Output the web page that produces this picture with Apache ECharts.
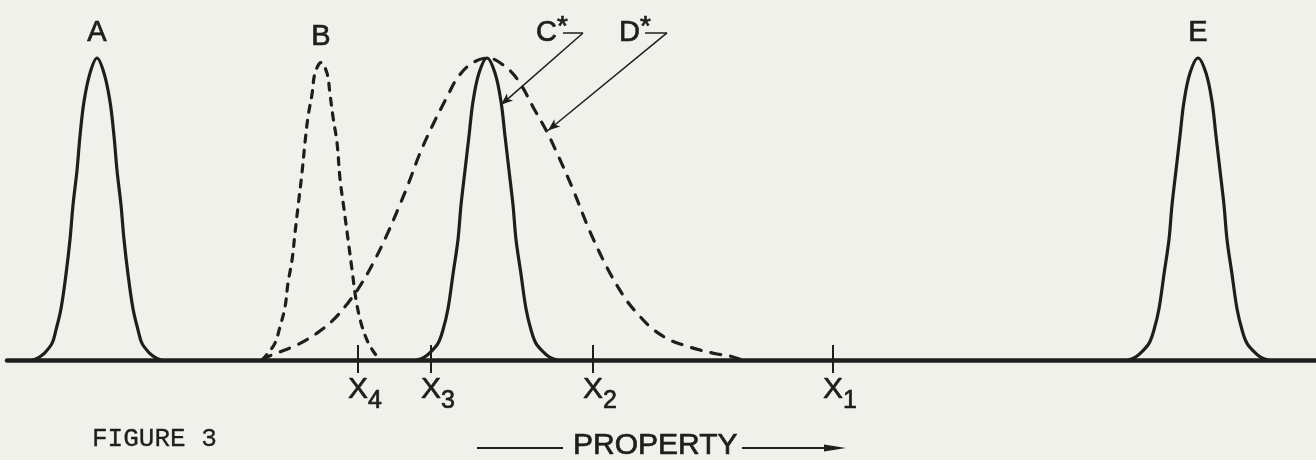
<!DOCTYPE html>
<html>
<head>
<meta charset="utf-8">
<title>Figure 3 – property distributions</title>
<script src="https://cdn.jsdelivr.net/npm/echarts@6/dist/echarts.min.js"></script>
<style>
  html, body { margin: 0; padding: 0; background: #f1f1ec; }
  #chart { width: 1316px; height: 460px; }
</style>
</head>
<body>
<div id="chart"></div>
<script>
// Distribution curves along the property axis: [property, relative frequency (peak = 100)]
const curveA = [[33,0],[39,0.9],[44,2.1],[52,5.5],[56,10],[61,17],[66,28.4],[70,39.9],[73,51.3],[77,62.8],[80,74.2],[84,85.6],[90,95],[97,100],
                [104,95],[110,85.6],[114,74.2],[117,62.8],[121,51.3],[124,39.9],[128,28.4],[133,17],[138,10],[142,5.5],[150,2.1],[155,0.9],[161,0]];
const curveB = [[262,0],[268,2.3],[275,5.6],[280,11],[285,17.5],[288,25.5],[292,33],[295,42],[298,50.7],[302,62],[305,72],[308,80.5],[312,88],[315,95],[321,98.5],
                [327,95],[330,88],[333,80.5],[337,72],[340,60],[344,50],[348,40],[352,30],[356,20],[361,12.3],[367,6.6],[373,3],[380,0]];
const curveC = [[417,0],[424,0.9],[429,2.1],[438,5.5],[443,10],[448,17],[453,28.4],[458,39.9],[461,51.3],[465,62.8],[469,74.2],[473,85.6],[479,95],[487,100],
                [495,95],[501,85.6],[505,74.2],[509,62.8],[513,51.3],[516,39.9],[521,28.4],[526,17],[531,10],[536,5.5],[545,2.1],[550,0.9],[557,0]];
const curveD = [[262,0],[267,1],[277,2.3],[297,5],[317,8.9],[333,13.2],[348,18.9],[360,24.5],[373,32],[387,41.5],[400,51.5],[408,58],[420,68.5],[433,78],[447,87.1],[458,93.7],[472,98.3],[488,100],
                [507,96.7],[520,91.7],[533,83.8],[547,75.5],[557,68.5],[572,57.3],[590,42.5],[608,30],[625,20.5],[637,15.5],[653,10.2],[670,6.6],[683,5],[700,3.3],[717,2],[730,1.3],[742,0]];
const curveE = [[1128,0],[1135,0.9],[1140,2.1],[1149,5.5],[1154,10],[1159,17],[1164,28.4],[1169,39.9],[1172,51.3],[1176,62.8],[1180,74.2],[1184,85.6],[1190,95],[1198,100],
                [1206,95],[1212,85.6],[1216,74.2],[1220,62.8],[1224,51.3],[1227,39.9],[1232,28.4],[1237,17],[1242,10],[1247,5.5],[1256,2.1],[1261,0.9],[1268,0]];

// Marked property values on the axis and their subscripts
const tickValues = [358, 431, 593, 833];
const tickSubscripts = ['4', '3', '2', '1'];
const tickSpan = [-4.3, 5];      // tick extent below / above the axis (frequency units)
const tickLabelLevel = -11.3;    // centre of the X-labels (frequency units)

// Callouts for C* and D*: label centre, elbow start, elbow end, arrow tip
const calloutC = { label: [552, 108.3], elbow: [[563, 108.3], [583, 108.3]], tip: [501, 84.5] };
const calloutD = { label: [635, 108.3], elbow: [[645, 108.3], [667, 108.3]], tip: [548, 76] };

const ink = '#1e1e1e';
const letterFont = "'Liberation Sans', Arial, sans-serif";
// lettering is a little heavier than the regular face: a thin outline in the ink colour
const heavy = { textBorderColor: ink, textBorderWidth: 0.7 };

function peakMark(name, data) {
  let peak = data[0];
  data.forEach(p => { if (p[1] > peak[1]) peak = p; });
  return {
    silent: true, symbol: 'circle', symbolSize: 0, animation: false,
    data: [{
      coord: peak,
      label: Object.assign({
        show: true, position: 'top', distance: 11, formatter: name,
        fontFamily: letterFont, fontSize: 29, color: ink, lineHeight: 29
      }, heavy)
    }]
  };
}

function calloutMark(letter, c) {
  return {
    markPoint: {
      silent: true, symbol: 'circle', symbolSize: 0, animation: false,
      data: [{
        coord: c.label,
        label: Object.assign({
          show: true, position: 'inside',
          formatter: '{m|' + letter + '}{st|*}',
          rich: {
            m: Object.assign({ fontFamily: letterFont, fontSize: 29, lineHeight: 29, color: ink }, heavy),
            st: Object.assign({ fontFamily: letterFont, fontSize: 28, lineHeight: 29, color: ink, padding: [0, 0, 12, 0] }, heavy)
          }
        }, heavy)
      }]
    },
    markLine: {
      silent: true, animation: false, symbol: ['none', 'none'],
      label: { show: false },
      lineStyle: { color: ink, width: 1.5, type: 'solid' },
      emphasis: { disabled: true },
      data: [
        [{ coord: c.elbow[0] }, { coord: c.elbow[1] }],
        [{ coord: c.elbow[1], symbol: 'none' }, { coord: c.tip, symbol: 'arrow', symbolSize: [7, 12] }]
      ]
    }
  };
}

function curveSeries(name, data, dash, extra) {
  return Object.assign({
    type: 'line', name: name, data: data,
    showSymbol: false, smooth: 0.35, clip: false, silent: true, z: 3,
    lineStyle: { color: ink, width: 3.2, type: dash || 'solid', cap: 'round', join: 'round' },
    markPoint: peakMark(name, data)
  }, extra || {});
}

// Tick marks crossing the axis and the subscripted X-labels beneath them
const axisMarks = {
  type: 'line', name: 'axis marks', silent: true, z: 2,
  data: tickValues.map(v => [v, 0]),
  showSymbol: false, lineStyle: { width: 0, opacity: 0 },
  markLine: {
    silent: true, animation: false, symbol: ['none', 'none'],
    label: { show: false }, emphasis: { disabled: true },
    lineStyle: { color: ink, width: 2, type: 'solid' },
    data: tickValues.map(v => [{ coord: [v, tickSpan[0]] }, { coord: [v, tickSpan[1]] }])
  },
  markPoint: {
    silent: true, animation: false, symbol: 'circle', symbolSize: 0,
    label: {
      show: true, position: 'inside',
      rich: {
        p: { width: 14, lineHeight: 38 },
        x: Object.assign({ fontFamily: letterFont, fontSize: 30, lineHeight: 28, color: ink, verticalAlign: 'top' }, heavy),
        s: Object.assign({ fontFamily: letterFont, fontSize: 25, lineHeight: 24, color: ink, verticalAlign: 'bottom' }, heavy)
      }
    },
    data: tickValues.map((v, i) => ({
      coord: [v, tickLabelLevel],
      label: { formatter: '{p|}{x|X}{s|' + tickSubscripts[i] + '}' }
    }))
  }
};

const chart = echarts.init(document.getElementById('chart'), null, { renderer: 'canvas' });

chart.setOption({
  backgroundColor: '#f1f1ec',
  animation: false,
  title: {
    text: 'FIGURE 3', left: 92, top: 426, padding: 0,
    textStyle: {
      fontFamily: "'Liberation Mono', 'DejaVu Sans Mono', monospace", fontSize: 26, fontWeight: 'normal',
      color: ink, lineHeight: 26, textBorderColor: ink, textBorderWidth: 0.3
    }
  },
  grid: { left: 7, right: 0, top: 0, bottom: 0 },
  xAxis: {
    type: 'value', min: 7, max: 1316,
    splitLine: { show: false },
    axisLine: { show: true, onZero: true, lineStyle: { color: ink, width: 4.5 } },
    axisTick: { show: false },
    axisLabel: { show: false }
  },
  yAxis: { type: 'value', min: -33.11, max: 119.21, show: false },
  graphic: [
    { type: 'line', silent: true, shape: { x1: 477, y1: 448, x2: 563, y2: 448 }, style: { stroke: ink, lineWidth: 2 } },
    { type: 'text', silent: true, style: { text: 'PROPERTY', x: 573, y: 446, verticalAlign: 'middle', fontFamily: 'Liberation Sans', fontSize: 30, fill: ink, stroke: ink, lineWidth: 0.7 } },
    { type: 'line', silent: true, shape: { x1: 742, y1: 448, x2: 830, y2: 448 }, style: { stroke: ink, lineWidth: 2 } },
    { type: 'polygon', silent: true, shape: { points: [[824, 444.5], [846, 448], [824, 451.5]] }, style: { fill: ink } }
  ],
  series: [
    axisMarks,
    curveSeries('A', curveA),
    curveSeries('B', curveB, [7, 8]),
    curveSeries('D*', curveD, [10, 10], calloutMark('D', calloutD)),
    curveSeries('C*', curveC, null, calloutMark('C', calloutC)),
    curveSeries('E', curveE)
  ]
});
</script>
</body>
</html>
